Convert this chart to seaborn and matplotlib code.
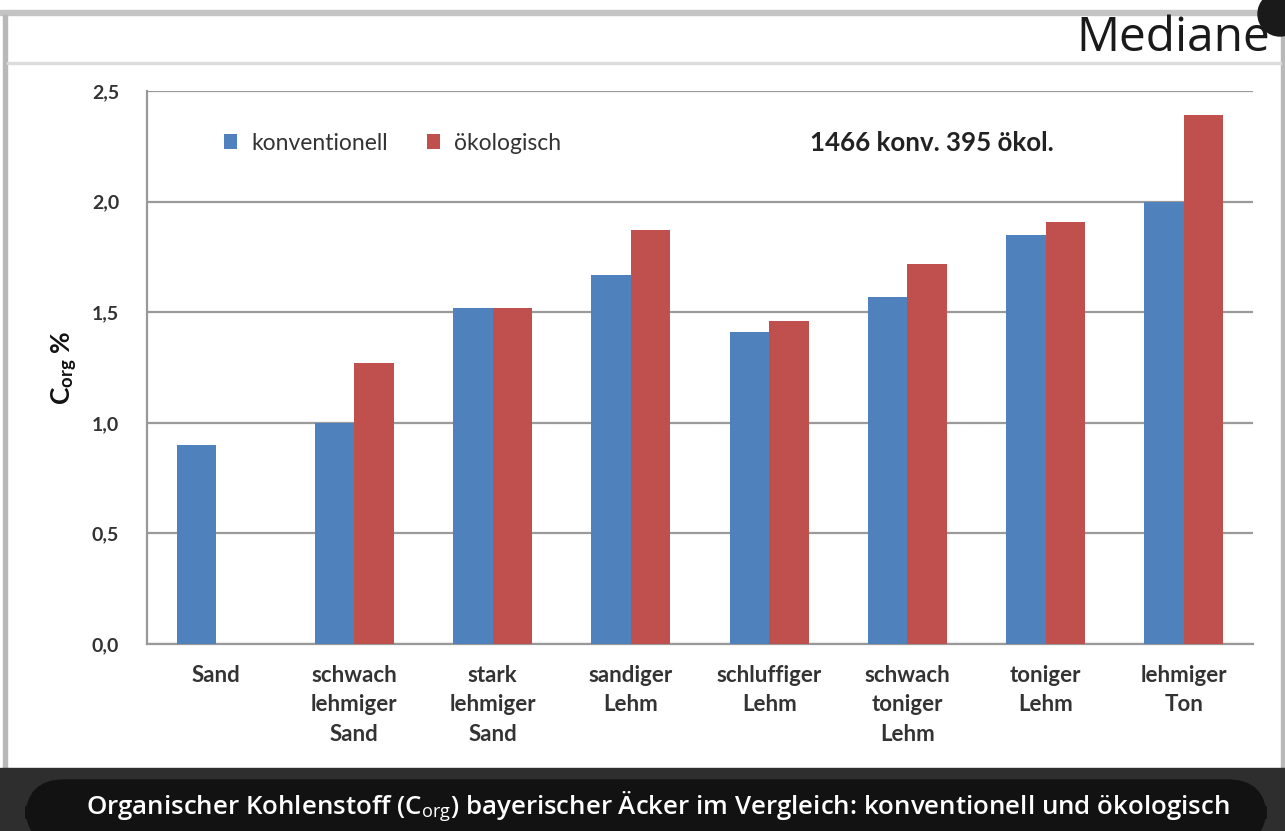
import numpy as np
import pandas as pd
import matplotlib
matplotlib.use("Agg")
import matplotlib.pyplot as plt
import seaborn as sns
from matplotlib.patches import Rectangle, FancyBboxPatch, Ellipse
from matplotlib.ticker import FixedLocator

categories = ["Sand", "schwach\nlehmiger\nSand", "stark\nlehmiger\nSand", "sandiger\nLehm",
              "schluffiger\nLehm", "schwach\ntoniger\nLehm", "toniger\nLehm", "lehmiger\nTon"]
konventionell = [0.90, 1.00, 1.52, 1.67, 1.41, 1.57, 1.85, 2.00]
oekologisch = [np.nan, 1.27, 1.52, 1.87, 1.46, 1.72, 1.91, 2.39]
series = ["konventionell", "ökologisch"]
yticks = [0.0, 0.5, 1.0, 1.5, 2.0, 2.5]
ytick_labels = ["0,0", "0,5", "1,0", "1,5", "2,0", "2,5"]
colors = ["#4F81BD", "#C0504D"]

sns.set_theme(style="white")
plt.rcParams['font.family'] = ['Lato', 'DejaVu Sans']
plt.rcParams['mathtext.fontset'] = 'custom'
plt.rcParams['mathtext.rm'] = 'Open Sans'
plt.rcParams['mathtext.bf'] = 'Lato:bold'
plt.rcParams['mathtext.it'] = 'Lato:italic'

df = pd.DataFrame({
    "Kategorie": categories * 2,
    "Serie": [series[0]] * len(categories) + [series[1]] * len(categories),
    "Wert": konventionell + oekologisch,
})

W, H = 1285, 831
fig = plt.figure(figsize=(W / 100, H / 100), dpi=100)
fig.patch.set_facecolor("white")


def fx(px):
    return px / W


def fy(py):
    return 1 - py / H


# slide frame decorations
fig.patches.append(Rectangle((fx(0), fy(15)), 1, 5 / H, transform=fig.transFigure,
                             color="#c4c4c4", zorder=0))
fig.patches.append(Rectangle((fx(3), fy(768)), 4 / W, (768 - 15) / H, transform=fig.transFigure,
                             color="#b8b8b8", zorder=0))
fig.patches.append(Rectangle((fx(1281), fy(768)), 4 / W, (768 - 15) / H, transform=fig.transFigure,
                             color="#b8b8b8", zorder=0))
fig.patches.append(Rectangle((fx(7), fy(64)), (1281 - 7) / W, 2 / H, transform=fig.transFigure,
                             color="#dcdcdc", zorder=0))
fig.patches.append(Rectangle((0, 0), 1, (H - 768) / H, transform=fig.transFigure,
                             color="#2e2e2e", zorder=0))
fig.patches.append(FancyBboxPatch((fx(26), fy(845)), (1266 - 26) / W, 65 / H,
                                  boxstyle="round,pad=0,rounding_size=0.03",
                                  transform=fig.transFigure, color="#121212", zorder=1,
                                  mutation_aspect=W / H))

fig.text(fx(1270), fy(38), "Mediane", ha="right", va="center", fontsize=34.5,
         family=["Open Sans", "DejaVu Sans"], color="#1a1a1a")
fig.patches.append(Ellipse((fx(1280), fy(14)), 44 / W, 44 / H, transform=fig.transFigure,
                           color="#1a1a1a", zorder=3))

ax = fig.add_axes([fx(147), fy(644), (1253 - 147) / W, (644 - 91) / H])
sns.barplot(data=df, x="Kategorie", y="Wert", hue="Serie", hue_order=series,
            palette=colors, width=0.57, gap=0, dodge=True, errorbar=None,
            saturation=1, ax=ax, legend=True, zorder=3, linewidth=0)

ax.set_ylim(0, 2.5)
ax.set_xlim(-0.5, len(categories) - 0.5)
ax.set_yticks(yticks)
ax.set_yticklabels(ytick_labels, fontsize=14, fontweight="bold", color="#333333")
ax.set_xticks(range(len(categories)))
ax.set_xticklabels(categories, fontsize=16, fontweight="bold", color="#333333",
                   linespacing=1.5, va="top")
ax.xaxis.set_minor_locator(FixedLocator(np.arange(-0.5, len(categories), 1.0)))
ax.tick_params(axis="x", which="major", length=0, pad=15)
ax.tick_params(axis="x", which="minor", length=6, width=1.5, color="#999999", direction="out")
ax.tick_params(axis="y", which="major", length=6, width=1.5, color="#999999",
               direction="out", pad=14)
ax.yaxis.grid(True, color="#9a9a9a", linewidth=1.6, zorder=0)
ax.set_axisbelow(True)
for s in ["top", "right"]:
    ax.spines[s].set_visible(False)
for s in ["left", "bottom"]:
    ax.spines[s].set_color("#999999")
    ax.spines[s].set_linewidth(1.6)
ax.set_xlabel("")
ax.set_ylabel("")

fig.text(fx(65), fy(368), r"$\mathbf{C}_{\mathbf{org}}$ %", rotation=90, ha="center",
         va="center", fontsize=19, fontweight="bold", color="#111111")

leg = ax.legend(loc="center left", bbox_to_anchor=(fx(203), fy(143)),
                bbox_transform=fig.transFigure, ncol=2, frameon=False,
                fontsize=16.5, handlelength=0.6, handleheight=0.6,
                columnspacing=1.7, handletextpad=0.6)
for t in leg.get_texts():
    t.set_color("#333333")

fig.text(fx(810), fy(143), "1466 konv. 395 ökol.", ha="left", va="center",
         fontsize=18.6, fontweight="bold", color="#222222")

fig.text(fx(658), fy(807), r"Organischer Kohlenstoff (C$_{\mathrm{org}}$) bayerischer Äcker im Vergleich: konventionell und ökologisch",
         ha="center", va="center", fontsize=18.6, color="white", fontweight="semibold",
         family=["Open Sans", "DejaVu Sans"], zorder=5)

fig.savefig("out.png", dpi=100, facecolor=fig.get_facecolor())
